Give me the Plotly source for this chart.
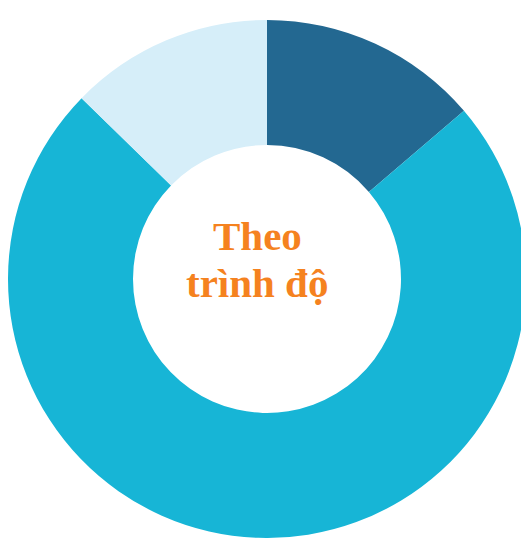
import plotly.graph_objects as go

labels = ["Sau đại học", "Đại học", "Khác"]
values = [13.75, 73.55, 12.7]
colors = ["#236891", "#17B5D6", "#D6EEF9"]
center_lines = ["Theo", "trình độ"]

W, H = 540, 538
cx, cy, r = 267, 279, 259

fig = go.Figure(go.Pie(
    labels=labels,
    values=values,
    hole=134 / 259,
    sort=False,
    direction="clockwise",
    rotation=0,
    marker=dict(colors=colors, line=dict(width=0)),
    textinfo="none",
    hoverinfo="label+percent",
    showlegend=False,
    domain=dict(x=[(cx - r) / W, (cx + r) / W],
                y=[(H - cy - r) / H, (H - cy + r) / H]),
))

font = dict(family="Liberation Serif", size=41, color="#F5821F")
for txt, py in zip(center_lines, [236, 283]):
    fig.add_annotation(text="<b>%s</b>" % txt, x=257 / W, y=1 - py / H,
                       xref="paper", yref="paper", showarrow=False,
                       xanchor="center", yanchor="middle", font=font)

fig.update_layout(width=W, height=H, autosize=False,
                  margin=dict(l=0, r=0, t=0, b=0),
                  paper_bgcolor="white", plot_bgcolor="white")

fig.write_html("out.html",
               post_script="document.body.style.overflow='hidden';document.documentElement.style.overflow='hidden';")
